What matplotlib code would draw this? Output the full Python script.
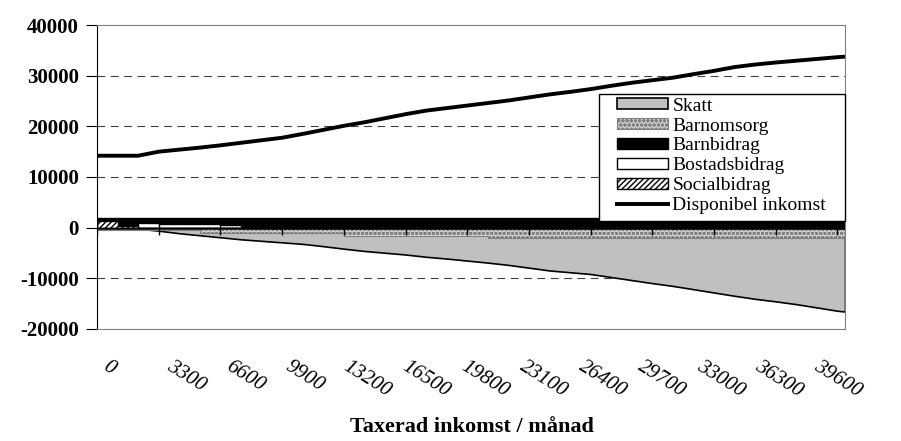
import numpy as np
import matplotlib.pyplot as plt
import matplotlib.transforms as mtransforms
from matplotlib.patches import Rectangle

plt.rcParams['font.family'] = ['Liberation Serif', 'DejaVu Serif']

# taxerad inkomst per månad, steg om 1100 kr (sista punkten 40000)
inkomst = list(range(0, 39601, 1100)) + [40000]

skatt = [0, 0, -200, -600, -1100, -1500, -1900, -2300, -2600, -2900,
         -3200, -3650, -4150, -4600, -4950, -5300, -5750, -6100, -6500,
         -6900, -7350, -7900, -8450, -8800, -9150, -9750, -10350, -10950,
         -11500, -12150, -12800, -13450, -14050, -14550, -15100, -15750,
         -16400, -16550]
barnomsorg = [-400, -400, -400, -400, -400,
              -1100, -1100, -1100, -1100, -1100, -1100, -1100,
              -1600, -1600, -1600, -1600, -1600, -1600, -1600,
              -1950, -1950, -1950, -1950, -1950, -1950, -1950, -1950,
              -1950, -1950, -1950, -1950, -1950, -1950, -1950, -1950,
              -1950, -1950, -1950]
barnbidrag = [2000] * 38
bostadsbidrag = [0, 0, 1000, 800, 800, 800, 600] + [0] * 31
socialbidrag = [1300, 400] + [0] * 36
disponibel = [14200, 14200, 14200, 15000, 15400, 15800, 16250, 16750,
              17250, 17750, 18500, 19300, 20100, 20800, 21600, 22400,
              23100, 23600, 24100, 24600, 25100, 25700, 26300, 26800,
              27350, 28000, 28600, 29100, 29600, 30300, 30950, 31700,
              32200, 32600, 32950, 33300, 33650, 33750]

xtick_vals = list(range(0, 39601, 3300))
ytick_vals = [-20000, -10000, 0, 10000, 20000, 30000, 40000]

fig = plt.figure(figsize=(9.01, 4.41), dpi=100)
ax = fig.add_axes([0.1077, 0.254, 0.8301, 0.6893])

ax.fill_between(inkomst, skatt, 0, facecolor='#c0c0c0',
                edgecolor='black', lw=1.2, label='Skatt')
ax.fill_between(inkomst, barnomsorg, 0, step='post', facecolor='#d0d0d0',
                edgecolor='#808080', hatch='oooo', lw=0.8, label='Barnomsorg')
ax.fill_between(inkomst, barnbidrag, 0, step='post', facecolor='black',
                edgecolor='black', lw=1, label='Barnbidrag')
ax.fill_between(inkomst, bostadsbidrag, 0, step='post', facecolor='white',
                edgecolor='black', lw=1, label='Bostadsbidrag')
ax.fill_between(inkomst, socialbidrag, 0, step='post', facecolor='white',
                edgecolor='black', hatch='//////', lw=1, label='Socialbidrag')
ax.plot(inkomst, disponibel, color='black', lw=2.8,
        label='Disponibel inkomst')

ax.set_xlim(0, 40000)
ax.set_ylim(-20000, 40000)

# gridlines
for v in [-10000, 10000, 20000, 30000]:
    ax.axhline(v, color='#404040', lw=0.8, ls=(0, (7, 5)), zorder=0)

# category axis crosses at 0
ax.axhline(0, color='black', lw=1)
ax.plot(xtick_vals, np.zeros(len(xtick_vals)), ls='none', marker='|',
        ms=10, mew=1, color='black')

for s in ['top', 'right', 'bottom']:
    ax.spines[s].set_color('#808080')
ax.spines['left'].set_color('black')

ax.set_yticks(ytick_vals)
ax.set_yticklabels([str(v) for v in ytick_vals], fontsize=15, fontweight='bold')
ax.tick_params(axis='y', length=8, direction='out', pad=5)

ax.set_xticks(xtick_vals)
labels = ax.set_xticklabels([str(v) for v in xtick_vals], fontsize=15,
                            style='italic', rotation=-32, ha='left',
                            va='top', rotation_mode='anchor')
ax.tick_params(axis='x', length=0, pad=20)
# Excel packs the labels a bit tighter than the ticks
for i, lab in enumerate(labels):
    dx = 13 if i == 0 else 15 - 2.9 * (i - 1)
    off = mtransforms.ScaledTranslation(dx / 100, 0, fig.dpi_scale_trans)
    lab.set_transform(lab.get_transform() + off)

fig.text(0.524, 0.032, 'Taxerad inkomst / månad', ha='center', va='center',
         fontsize=16, fontweight='bold')

# legend box
ax.add_patch(Rectangle((0.6648, 0.4989), 0.273, 0.288, transform=fig.transFigure,
                       facecolor='white', edgecolor='black', lw=1,
                       zorder=4, clip_on=False))
leg = ax.legend(loc='upper left', bbox_to_anchor=(0.6848, 0.7787),
                bbox_transform=fig.transFigure, borderaxespad=0, borderpad=0,
                fontsize=14, handlelength=2.6, handleheight=0.5,
                labelspacing=0.15, handletextpad=0.25, frameon=False)

fig.savefig('out.png', dpi=100)
